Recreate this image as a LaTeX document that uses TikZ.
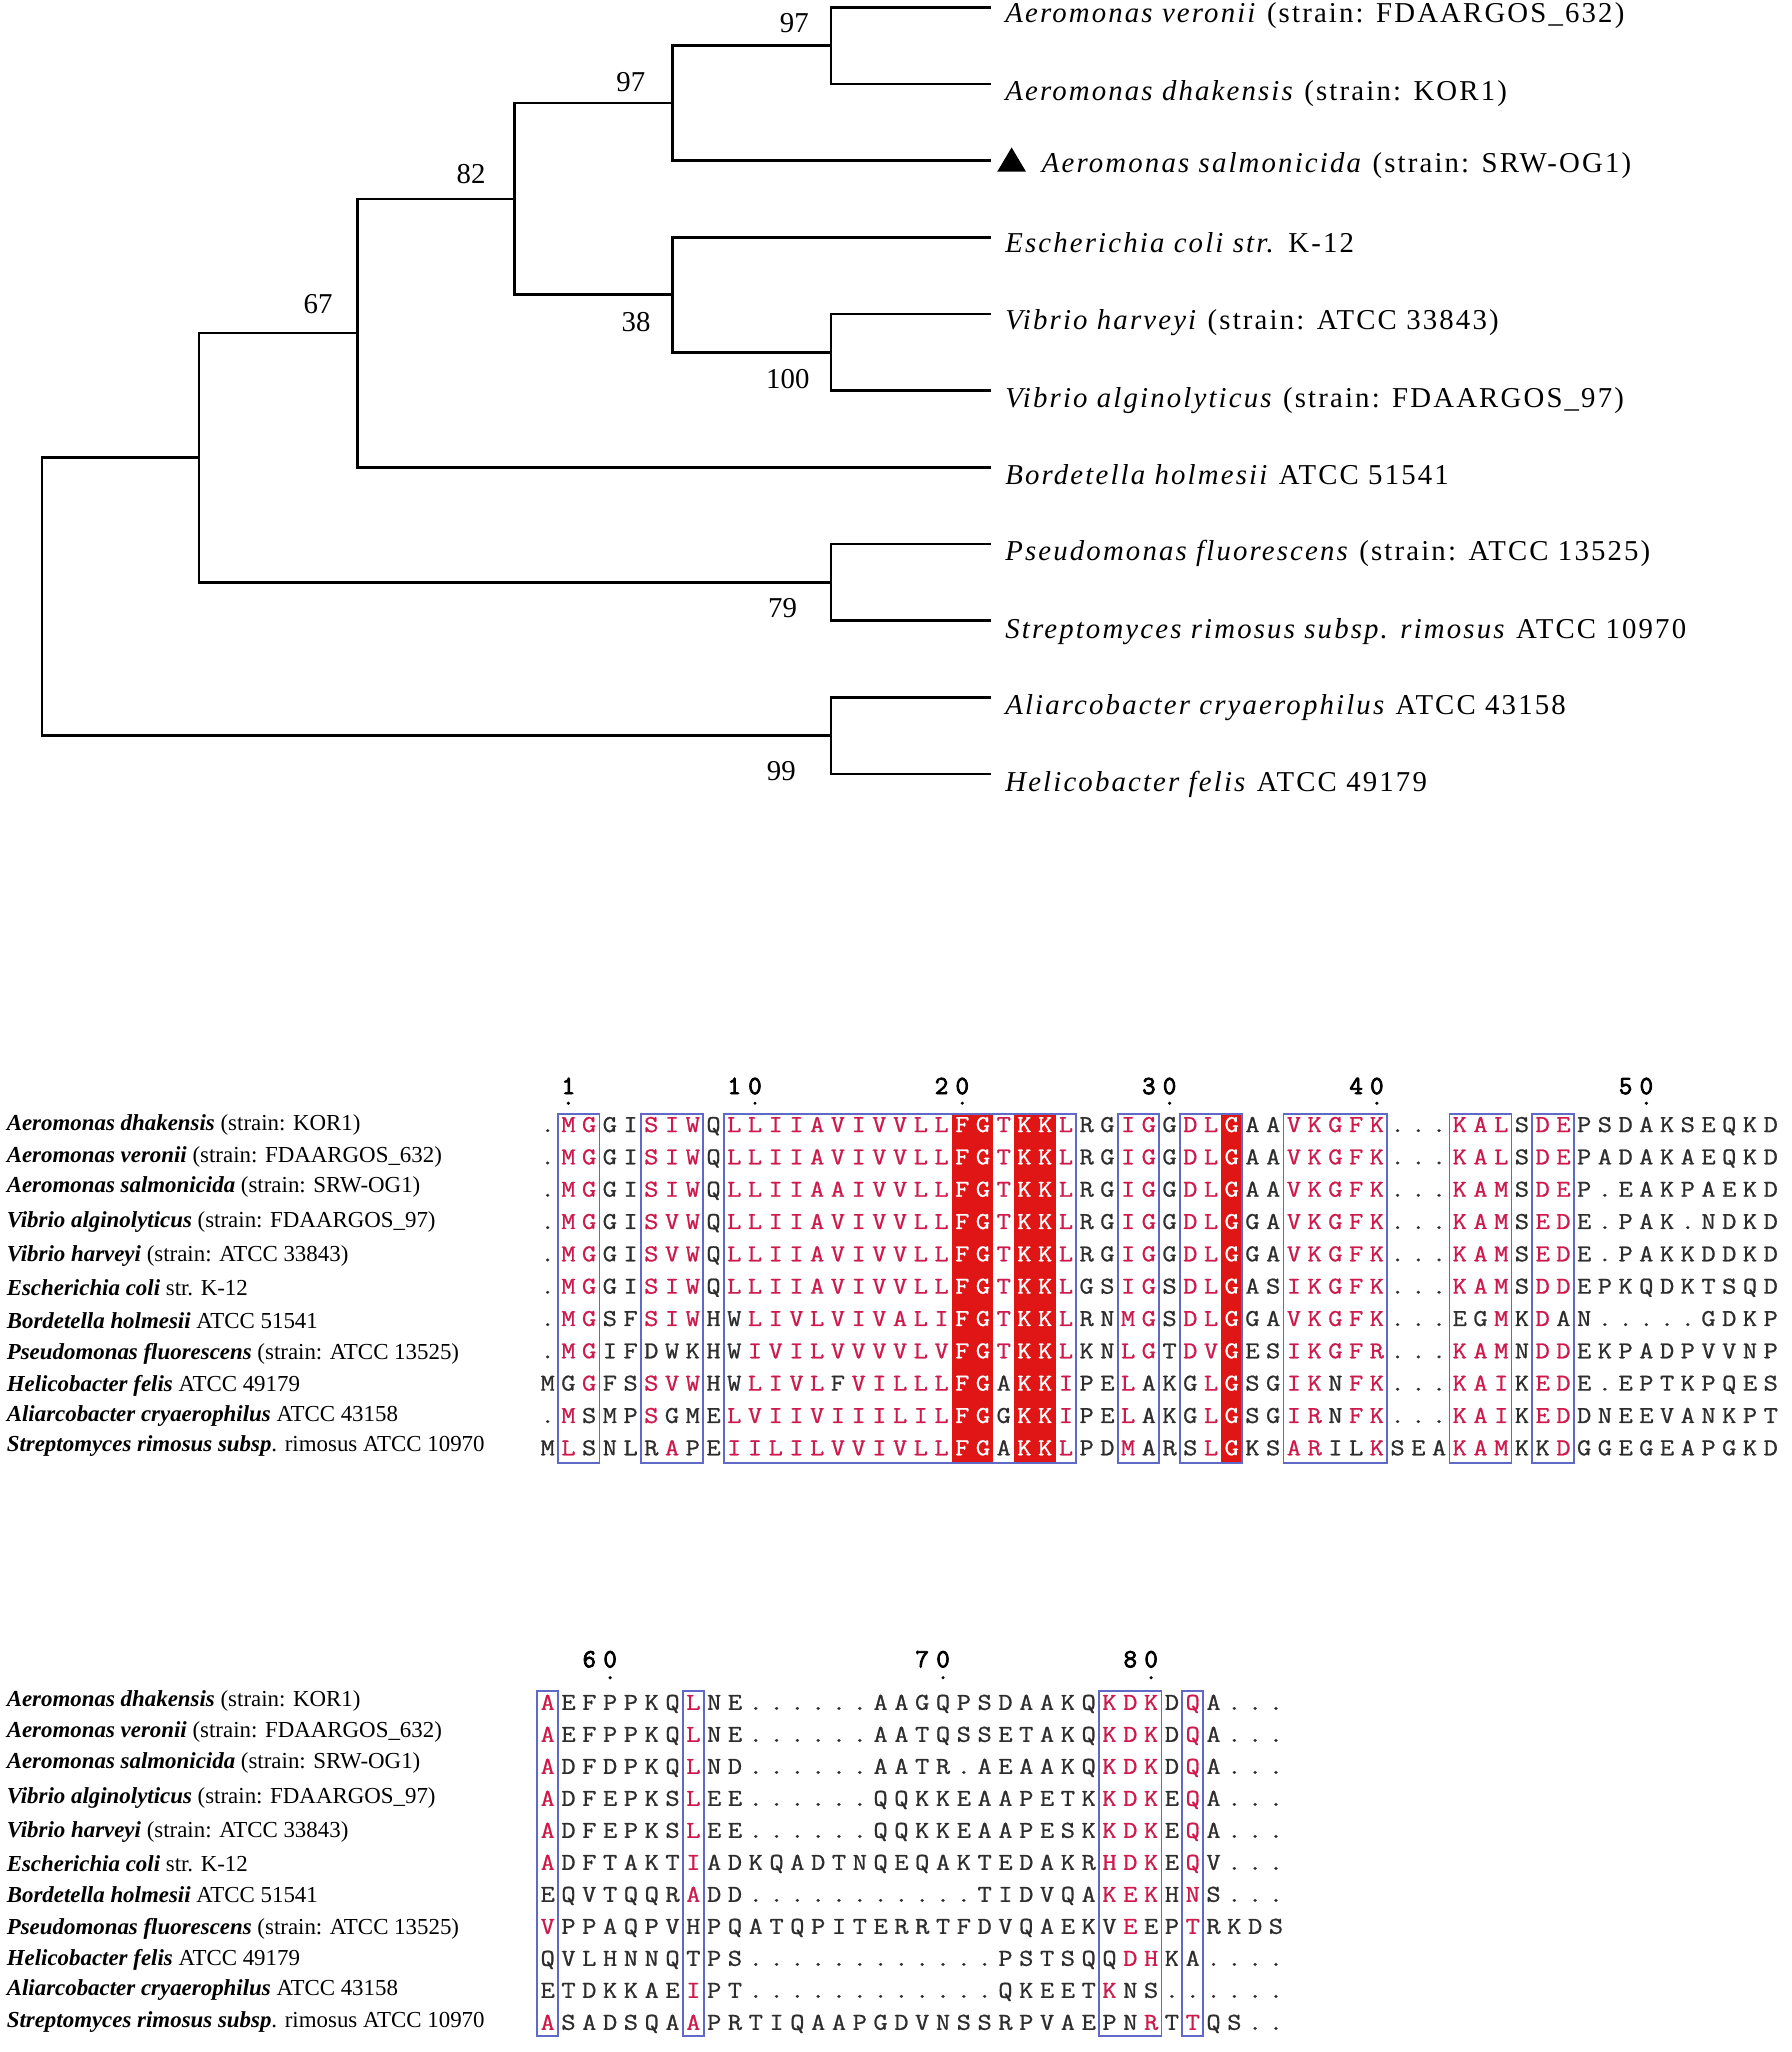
\documentclass[tikz,border=0pt]{standalone}
\usepackage{fontspec}
\setmainfont{Liberation Serif}
\newfontfamily\treefont{Liberation Serif}[LetterSpace=7.5]
\newfontfamily\seqfont{Latin Modern Mono}[FakeStretch=1.15,FakeBold=0.8]
\newfontfamily\numfont{Latin Modern Mono}[FakeBold=3]
\definecolor{seqr}{RGB}{205,25,75}
\definecolor{seqk}{RGB}{45,45,45}
\definecolor{seqw}{RGB}{255,255,255}
\definecolor{fillred}{RGB}{224,22,22}
\definecolor{boxblue}{RGB}{95,105,200}
\tikzset{
  branch/.style={line width=2pt},
  leaflab/.style={anchor=base west, inner sep=0pt, font=\fontsize{22}{26}\treefont},
  boot/.style={inner sep=0pt, font=\fontsize{22}{26}\selectfont},
  seqch/.style={anchor=base, inner sep=0pt, font=\fontsize{18.5}{22}\seqfont},
  numdig/.style={anchor=base, inner sep=0pt, font=\fontsize{20}{24}\numfont},
  alnlab/.style={anchor=base west, inner sep=0pt, font=\fontsize{17.5}{20}\selectfont},
  alnbox/.style={draw=boxblue, line width=1.3pt},
  redcol/.style={fill=fillred}
}
\makeatletter
\newcount\seqcol
\def\seq@pop#1#2\@nil{\def\seq@c{#1}\def\seq@m{#2}}
\def\seqrow#1#2#3#4#5#6{%
  \def\seq@n{#1}\def\seq@x{#2}\def\seq@p{#3}\def\seq@y{#4}%
  \edef\seq@m{#6}%
  \seqcol=0\relax
  \seq@loop#5\relax}
\def\seq@loop#1#2\relax{%
  \ifx\seq@m\@empty\def\seq@c{k}\else\expandafter\seq@pop\seq@m\@nil\fi
  \node[seqch,text=seq\seq@c] (\seq@n c\the\seqcol) at ({\seq@x+\seq@p*\the\seqcol},\seq@y) {#1};%
  \advance\seqcol by 1\relax
  \ifx\relax#2\relax\expandafter\@gobble\else\expandafter\@firstofone\fi
  {\seq@loop#2\relax}}
\makeatother
% mask segments, block 1
\def\rfive{rrrrr}\def\kfive{kkkkk}
\def\Ta{krrkkrrrk}
\def\Tb{\rfive\rfive r}
\def\Tc{wwrwwr}
\def\Td{kkrrk}
\def\Te{rrwkk}
\def\Tf{rrrrr}
\def\Tg{kkk}
\def\Th{rrr}
\def\Ti{k}
\def\Tj{rr}
\def\Tk{\kfive\kfive}
\def\Tall{\Ta\Tb\Tc\Td\Te\Tf\Tg\Th\Ti\Tj\Tk}
% mask segments, block 2
\def\Ua{r}
\def\Ub{kkkkkk}
\def\Uc{r}
\def\Ud{\Ub\Ub\Ub k}
\def\Ue{rrr}
\def\Uf{k}
\def\Ug{r}
\def\Uh{kkkk}
\def\Uall{\Ua\Ub\Uc\Ud\Ue\Uf\Ug\Uh}
\newcommand\bi[1]{\textbf{\textit{#1}}}
\begin{document}
\begin{tikzpicture}[x=1pt,y=-1pt]
\useasboundingbox (0,0) rectangle (1369,1568);
\fill[white] (0,0) rectangle (1369,1568);
% ---------------- tree ----------------
\coordinate (root) at (32,456);
\coordinate (nH) at (152,349.8);
\coordinate (nI) at (635,562.2);
\coordinate (nF) at (273,254.55);
\coordinate (nG) at (635,445);
\coordinate (nE) at (393,152);
\coordinate (nB) at (514,78.75);
\coordinate (nD) at (514,225.25);
\coordinate (nA) at (635,34.8);
\coordinate (nC) at (635,269.2);
\coordinate (l1) at (757,5.5);
\coordinate (l2) at (757,64.1);
\coordinate (l3) at (757,122.7);
\coordinate (l4) at (757,181.3);
\coordinate (l5) at (757,239.9);
\coordinate (l6) at (757,298.5);
\coordinate (l7) at (757,357.1);
\coordinate (l8) at (757,415.7);
\coordinate (l9) at (757,474.3);
\coordinate (l10) at (757,532.9);
\coordinate (l11) at (757,591.5);
\draw[branch] (nH) -| (root);
\draw[branch] (nI) -| (root);
\draw[branch] (nF) -| (nH);
\draw[branch] (nG) -| (nH);
\draw[branch] (nE) -| (nF);
\draw[branch] (l7) -| (nF);
\draw[branch] (nB) -| (nE);
\draw[branch] (nD) -| (nE);
\draw[branch] (nA) -| (nB);
\draw[branch] (l3) -| (nB);
\draw[branch] (l1) -| (nA);
\draw[branch] (l2) -| (nA);
\draw[branch] (l4) -| (nD);
\draw[branch] (nC) -| (nD);
\draw[branch] (l5) -| (nC);
\draw[branch] (l6) -| (nC);
\draw[branch] (l8) -| (nG);
\draw[branch] (l9) -| (nG);
\draw[branch] (l10) -| (nI);
\draw[branch] (l11) -| (nI);
% bootstrap values
\node[boot] (bA) at (607,18) {97};
\node[boot] (bB) at (482,63) {97};
\node[boot] (bE) at (360,133) {82};
\node[boot] (bF) at (243,232) {67};
\node[boot] (bD) at (486,246) {38};
\node[boot] (bC) at (602,290) {100};
\node[boot] (bG) at (598,465) {79};
\node[boot] (bI) at (597,589) {99};
% triangle marker
\coordinate (tri) at (773,122.7);
\fill[black] (tri) +(-11,8.5) -- +(11,8.5) -- +(0,-10) -- cycle;
% leaf labels
\node[leaflab] (t1) at (768,17) {\textit{Aeromonas veronii} (strain: FDAARGOS\_632)};
\node[leaflab] (t2) at (768,77) {\textit{Aeromonas dhakensis} (strain: KOR1)};
\node[leaflab] (t3) at (796,131.7) {\textit{Aeromonas salmonicida} (strain: SRW-OG1)};
\node[leaflab] (t4) at (768,193) {\textit{Escherichia coli str.} K-12};
\node[leaflab] (t5) at (768,252) {\textit{Vibrio harveyi} (strain: ATCC 33843)};
\node[leaflab] (t6) at (768,311) {\textit{Vibrio alginolyticus} (strain: FDAARGOS\_97)};
\node[leaflab] (t7) at (768,370) {\textit{Bordetella holmesii} ATCC 51541};
\node[leaflab] (t8) at (768,428) {\textit{Pseudomonas fluorescens} (strain: ATCC 13525)};
\node[leaflab] (t9) at (768,488) {\textit{Streptomyces rimosus subsp. rimosus} ATCC 10970};
\node[leaflab] (t10) at (768,546) {\textit{Aliarcobacter cryaerophilus} ATCC 43158};
\node[leaflab] (t11) at (768,605) {\textit{Helicobacter felis} ATCC 49179};
% ---------------- alignment block 1 ----------------
\def\xa{418.5}\def\pa{15.84}
\foreach \a/\b in {20/21,23/24,33/33}
  \fill[redcol] ({\xa+\pa*(\a-0.5)},851) rectangle ({\xa+\pa*(\b+0.5)},1118);
\foreach \d/\c in {1/1,1/9,0/10,2/19,0/20,3/29,0/30,4/39,0/40,5/52,0/53}
  \node[numdig] (na\c) at ({\xa+\pa*\c},836) {\d};
\foreach \c in {1,10,20,30,40,53}
  \fill[black] ({\xa+\pa*\c},843) circle (1.3);
\seqrow{a1}{\xa}{\pa}{865}{.MGGISIWQLLIIAVIVVLLFGTKKLRGIGGDLGAAVKGFK...KALSDEPSDAKSEQKD}{\Tall}
\seqrow{a2}{\xa}{\pa}{889.7}{.MGGISIWQLLIIAVIVVLLFGTKKLRGIGGDLGAAVKGFK...KALSDEPADAKAEQKD}{\Tall}
\seqrow{a3}{\xa}{\pa}{914.4}{.MGGISIWQLLIIAAIVVLLFGTKKLRGIGGDLGAAVKGFK...KAMSDEP.EAKPAEKD}{\Tall}
\seqrow{a4}{\xa}{\pa}{939.1}{.MGGISVWQLLIIAVIVVLLFGTKKLRGIGGDLGGAVKGFK...KAMSEDE.PAK.NDKD}{\Tall}
\seqrow{a5}{\xa}{\pa}{963.8}{.MGGISVWQLLIIAVIVVLLFGTKKLRGIGGDLGGAVKGFK...KAMSEDE.PAKKDDKD}{\Tall}
\seqrow{a6}{\xa}{\pa}{988.5}{.MGGISIWQLLIIAVIVVLLFGTKKLGSIGSDLGASIKGFK...KAMSDDEPKQDKTSQD}{\Tall}
\seqrow{a7}{\xa}{\pa}{1013.2}{.MGSFSIWHWLIVLVIVALIFGTKKLRNMGSDLGGAVKGFK...EGMKDAN.....GDKP}{\Ta k\rfive\rfive\Tc\Td\Te\Tf\Tg kkr\Ti rk\Tk}
\seqrow{a8}{\xa}{\pa}{1037.9}{.MGIFDWKHWIVILVVVVLVFGTKKLKNLGTDVGESIKGFR...KAMNDDEKPADPVVNP}{krrkkkkkk k\rfive\rfive\Tc\Td\Te\Tf\Tg\Th\Ti\Tj\Tk}
\seqrow{a9}{\xa}{\pa}{1062.6}{MGGFSSVWHWLIVLFVILLLFGAKKIPELAKGLGSGIKNFK...KAIKEDE.EPTKPQES}{kkrkkrrrk krrrrkrrrrr wwkwwr kkrkk krwkk rrkrr\Tg\Th\Ti\Tj\Tk}
\seqrow{a10}{\xa}{\pa}{1087.3}{.MSMPSGMELVIIVIIILILFGGKKIPELAKGLGSGIRNFK...KAIKEDDNEEVANKPT}{krkkkrkkk\Tb wwkwwr kkrkk krwkk rrkrr\Tg\Th\Ti\Tj\Tk}
\seqrow{a11}{\xa}{\pa}{1112}{MLSNLRAPEIILILVVIVLLFGAKKLPDMARSLGKSARILKSEAKAMKKDGGEGEAPGKD}{krkkkkrkk\Tb wwkwwr kkrkk krwkk rrkkr\Tg\Th\Ti kr\Tk}
\foreach \a/\b in {1/2,5/7,9/25,28/29,31/33,36/40,44/46,48/49}
  \draw[alnbox] ({\xa+\pa*(\a-0.5)},851) rectangle ({\xa+\pa*(\b+0.5)},1118);
% labels block 1
\node[alnlab] (la1) at (5,864) {\bi{Aeromonas dhakensis} (strain: KOR1)};
\node[alnlab] (la2) at (5,888) {\bi{Aeromonas veronii} (strain: FDAARGOS\_632)};
\node[alnlab] (la3) at (5,911) {\bi{Aeromonas salmonicida} (strain: SRW-OG1)};
\node[alnlab] (la4) at (5,938) {\bi{Vibrio alginolyticus} (strain: FDAARGOS\_97)};
\node[alnlab] (la5) at (5,964) {\bi{Vibrio harveyi} (strain: ATCC 33843)};
\node[alnlab] (la6) at (5,990) {\bi{Escherichia coli} str. K-12};
\node[alnlab] (la7) at (5,1015) {\bi{Bordetella holmesii} ATCC 51541};
\node[alnlab] (la8) at (5,1039) {\bi{Pseudomonas fluorescens} (strain: ATCC 13525)};
\node[alnlab] (la9) at (5,1063) {\bi{Helicobacter felis} ATCC 49179};
\node[alnlab] (la10) at (5,1086) {\bi{Aliarcobacter cryaerophilus} ATCC 43158};
\node[alnlab] (la11) at (5,1109) {\bi{Streptomyces rimosus subsp}. rimosus ATCC 10970};
% ---------------- alignment block 2 ----------------
\def\pb{15.9}
\foreach \d/\c in {6/2,0/3,7/18,0/19,8/28,0/29}
  \node[numdig] (nb\c) at ({\xa+\pb*\c},1274) {\d};
\foreach \c in {3,19,29}
  \fill[black] ({\xa+\pb*\c},1282) circle (1.3);
\seqrow{b1}{\xa}{\pb}{1306.5}{AEFPPKQLNE......AAGQPSDAAKQKDKDQA...}{\Uall}
\seqrow{b2}{\xa}{\pb}{1330.95}{AEFPPKQLNE......AATQSSETAKQKDKDQA...}{\Uall}
\seqrow{b3}{\xa}{\pb}{1355.4}{ADFDPKQLND......AATR.AEAAKQKDKDQA...}{\Uall}
\seqrow{b4}{\xa}{\pb}{1379.85}{ADFEPKSLEE......QQKKEAAPETKKDKEQA...}{\Uall}
\seqrow{b5}{\xa}{\pb}{1404.3}{ADFEPKSLEE......QQKKEAAPESKKDKEQA...}{\Uall}
\seqrow{b6}{\xa}{\pb}{1428.75}{ADFTAKTIADKQADTNQEQAKTEDAKRHDKEQV...}{\Uall}
\seqrow{b7}{\xa}{\pb}{1453.2}{EQVTQQRADD...........TIDVQAKEKHNS...}{k\Ub\Uc\Ud\Ue\Uf\Ug\Uh}
\seqrow{b8}{\xa}{\pb}{1477.65}{VPPAQPVHPQATQPITERRTFDVQAEKVEEPTRKDS}{\Ua\Ub k\Ud krk\Uf\Ug\Uh}
\seqrow{b9}{\xa}{\pb}{1502.1}{QVLHNNQTPS............PSTSQQDHKA....}{k\Ub k\Ud krr\Uf k\Uh}
\seqrow{b10}{\xa}{\pb}{1526.55}{ETDKKAEIPT............QKEETKNS......}{k\Ub\Uc\Ud rkk\Uf k\Uh}
\seqrow{b11}{\xa}{\pb}{1551}{ASADSQAAPRTIQAAPGDVNSSRPVAEPNRTTQS..}{\Ua\Ub\Uc\Ud kkr\Uf\Ug\Uh}
\foreach \a/\b in {0/0,7/7,27/29,31/31}
  \draw[alnbox] ({\xa+\pb*(\a-0.5)},1292) rectangle ({\xa+\pb*(\b+0.5)},1556);
% labels block 2
\node[alnlab] (lb1) at (5,1304) {\bi{Aeromonas dhakensis} (strain: KOR1)};
\node[alnlab] (lb2) at (5,1328) {\bi{Aeromonas veronii} (strain: FDAARGOS\_632)};
\node[alnlab] (lb3) at (5,1351) {\bi{Aeromonas salmonicida} (strain: SRW-OG1)};
\node[alnlab] (lb4) at (5,1378) {\bi{Vibrio alginolyticus} (strain: FDAARGOS\_97)};
\node[alnlab] (lb5) at (5,1404) {\bi{Vibrio harveyi} (strain: ATCC 33843)};
\node[alnlab] (lb6) at (5,1430) {\bi{Escherichia coli} str. K-12};
\node[alnlab] (lb7) at (5,1454) {\bi{Bordetella holmesii} ATCC 51541};
\node[alnlab] (lb8) at (5,1478) {\bi{Pseudomonas fluorescens} (strain: ATCC 13525)};
\node[alnlab] (lb9) at (5,1502) {\bi{Helicobacter felis} ATCC 49179};
\node[alnlab] (lb10) at (5,1525) {\bi{Aliarcobacter cryaerophilus} ATCC 43158};
\node[alnlab] (lb11) at (5,1549) {\bi{Streptomyces rimosus subsp}. rimosus ATCC 10970};
\end{tikzpicture}
\end{document}
